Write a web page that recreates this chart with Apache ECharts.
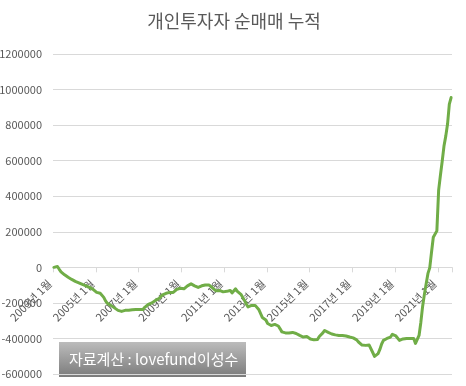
<!DOCTYPE html>
<html>
<head>
<meta charset="utf-8">
<script src="https://cdn.jsdelivr.net/npm/echarts@6/dist/echarts.min.js"></script>
<style>
html,body{margin:0;padding:0;background:#fff;}
#c{width:466px;height:386px;}
</style>
</head>
<body>
<div id="c"></div>
<script>
var titleText = '개인투자자 순매매 누적';
var sourceText = '자료계산 : lovefund이성수';
var startYear = 2003;
var monthCount = 224;
var yTicks = [-600000, -400000, -200000, 0, 200000, 400000, 600000, 800000, 1000000, 1200000];
var cumulative = [
0,3000,5000,-11000,-25000,-34000,-42000,-51000,-56000,-62000,-68000,-73000,
-79000,-85000,-87000,-90000,-96000,-101000,-104000,-107000,-113000,-118000,-124000,-130000,
-141000,-144000,-146000,-152000,-169000,-189000,-203000,-206000,-214000,-220000,-228000,-234000,
-242000,-248000,-248000,-248000,-242000,-242000,-242000,-242000,-239000,-237000,-237000,-237000,
-237000,-237000,-237000,-225000,-214000,-208000,-203000,-200000,-194000,-186000,-180000,-175000,
-166000,-155000,-149000,-146000,-146000,-141000,-141000,-141000,-132000,-124000,-121000,-118000,
-124000,-121000,-113000,-104000,-96000,-93000,-101000,-104000,-110000,-113000,-107000,-104000,
-101000,-99000,-96000,-99000,-104000,-115000,-124000,-132000,-135000,-130000,-132000,-138000,
-141000,-135000,-132000,-130000,-144000,-146000,-121000,-135000,-146000,-152000,-163000,-186000,
-206000,-223000,-220000,-214000,-214000,-214000,-225000,-237000,-259000,-282000,-285000,-296000,
-316000,-324000,-327000,-324000,-321000,-324000,-330000,-346000,-363000,-369000,-369000,-372000,
-369000,-366000,-366000,-369000,-372000,-375000,-383000,-392000,-392000,-389000,-389000,-394000,
-403000,-411000,-408000,-406000,-406000,-389000,-380000,-369000,-355000,-355000,-366000,-372000,
-375000,-377000,-380000,-380000,-383000,-383000,-383000,-383000,-386000,-389000,-392000,-394000,
-397000,-400000,-408000,-420000,-428000,-437000,-442000,-439000,-434000,-437000,-448000,-479000,
-501000,-496000,-485000,-462000,-431000,-411000,-406000,-400000,-397000,-392000,-377000,-372000,
-386000,-397000,-411000,-417000,-403000,-400000,-400000,-400000,-400000,-400000,-400000,-428000,
-434000,-383000,-310000,-220000,-152000,-93000,-34000,-3000,85000,169000,175000,205000,
434000,518000,597000,682000,738000,806000,918000,955000
];
var months = [];
for (var i = 0; i < monthCount; i++) {
  months.push((startYear + Math.floor(i / 12)) + '년 ' + (i % 12 + 1) + '월');
}
var gridTop = 54, gridBottom = 12, chartH = 386;
var plotH = chartH - gridTop - gridBottom;
var yMin = yTicks[0], yMax = yTicks[yTicks.length - 1];
var zeroOffset = -plotH * (0 - yMin) / (yMax - yMin);
var chart = echarts.init(document.getElementById('c'));
var font = '"Noto Sans CJK KR", "Noto Sans", sans-serif';
chart.setOption({
  animation: false,
  backgroundColor: '#fff',
  title: {
    text: titleText, left: 229, top: 7, textAlign: 'center',
    textStyle: {color: '#595959', fontSize: 18, fontWeight: 'normal', fontFamily: font}
  },
  grid: {left: 53, right: 14, top: gridTop, bottom: gridBottom, containLabel: false, outerBoundsMode: 'none'},
  xAxis: {
    type: 'category', data: months, boundaryGap: true, position: 'bottom', offset: zeroOffset,
    axisLine: {onZero: false, lineStyle: {color: '#d9d9d9', width: 1}},
    axisTick: {show: true, interval: 23, length: 5, lineStyle: {color: '#d9d9d9'}},
    axisLabel: {interval: 23, rotate: 45, color: '#595959', fontSize: 11, fontFamily: font, margin: 10, padding: [0, 6, 0, 0]},
    splitLine: {show: false}
  },
  yAxis: {
    type: 'value', min: yMin, max: yMax, interval: 200000,
    axisLine: {show: false}, axisTick: {show: false},
    axisLabel: {color: '#595959', fontSize: 11, fontFamily: font, margin: 11, formatter: function (v) { return String(v); }},
    splitLine: {lineStyle: {color: '#d9d9d9', width: 1}}
  },
  series: [{
    type: 'line', data: cumulative, symbol: 'none', smooth: false,
    lineStyle: {color: '#70ad47', width: 3, cap: 'round', join: 'round'}
  }],
  graphic: [{
    type: 'group', left: 59, top: 342, z: 100,
    children: [{
      type: 'rect', shape: {x: 0, y: 0, width: 187, height: 35},
      style: {fill: new echarts.graphic.LinearGradient(0, 0, 0, 1, [
        {offset: 0, color: '#bcbcbc'}, {offset: 1, color: '#7b7b7b'}])}
    }, {
      type: 'text', x: 10, y: 17.5,
      style: {text: sourceText, fill: '#ffffff', fontSize: 15, fontFamily: font, verticalAlign: 'middle'}
    }]
  }]
});
</script>
</body>
</html>
